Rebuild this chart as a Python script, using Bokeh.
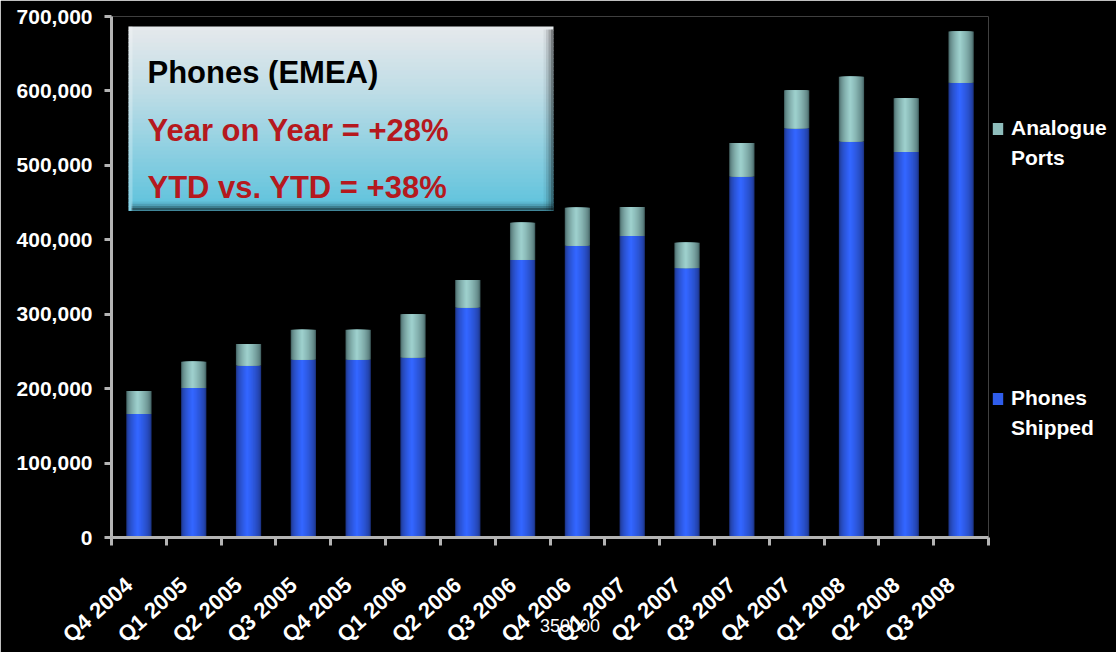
import numpy as np
from bokeh.plotting import figure
from bokeh.models import (Range1d, FixedTicker, NumeralTickFormatter, Label,
                          BoxAnnotation, ColumnDataSource, Legend, LegendItem)
from bokeh.embed import file_html
from bokeh.resources import INLINE

# ---------------- data ----------------
quarters = ["Q4 2004", "Q1 2005", "Q2 2005", "Q3 2005", "Q4 2005", "Q1 2006",
            "Q2 2006", "Q3 2006", "Q4 2006", "Q1 2007", "Q2 2007", "Q3 2007",
            "Q4 2007", "Q1 2008", "Q2 2008", "Q3 2008"]
phones_shipped = [166000, 201000, 231000, 239000, 239000, 242000, 309000, 373000,
                  392000, 405000, 362000, 485000, 550000, 532000, 518000, 611000]
analogue_ports = [31000, 35000, 29000, 40000, 40000, 58000, 37000, 50000,
                  51000, 39000, 34000, 45000, 51000, 87000, 72000, 69000]
y_ticks = [0, 100000, 200000, 300000, 400000, 500000, 600000, 700000]
series_names = [["Analogue", "Ports"], ["Phones", "Shipped"]]
box_lines = ["Phones (EMEA)", "Year on Year = +28%", "YTD vs. YTD = +38%"]
stray_text = "350000"

FONT = "Liberation Sans"
AXIS_GREY = "#b4b4b4"
n = len(quarters)

# ---------------- geometry helpers (reference pixel -> data) ----------------
FW, FH = 877, 521
IMG_L, IMG_T = 111, 16
IMG_B = IMG_T + FH
def px2x(px):
    return (px - IMG_L) * n / FW
def py2y(py):
    return (IMG_B - py) * 700000 / FH

p = figure(frame_width=FW, frame_height=FH,
           x_range=Range1d(0, n), y_range=Range1d(0, 700000),
           output_backend="svg", toolbar_location=None,
           background_fill_color="black", border_fill_color="black",
           min_border_left=IMG_L, min_border_right=0,
           min_border_top=IMG_T, min_border_bottom=652 - IMG_B)
p.outline_line_color = None
p.grid.visible = False

# ---------------- bars with horizontal gradient ----------------
xs = np.arange(n) + 0.5
BAR_W = 0.46
PEAK = 0.45

def hex2rgb(h):
    h = h.lstrip("#")
    return [int(h[i:i + 2], 16) for i in (0, 2, 4)]

def lerp(c1, c2, t):
    a, b = hex2rgb(c1), hex2rgb(c2)
    return "#%02x%02x%02x" % tuple(int(round(a[i] + (b[i] - a[i]) * t)) for i in range(3))

phones = np.array(phones_shipped, dtype=float)
totals = phones + np.array(analogue_ports, dtype=float)

def gradient_bars(bottom, top, edge, center, K=12):
    rends = []
    for k in range(K):
        f = 1 - k / K
        t = (k / (K - 1)) ** 0.6
        off = (PEAK - 0.5) * BAR_W * (1 - f)
        src = ColumnDataSource(dict(x=xs + off, bottom=bottom, top=top))
        r = p.vbar(x="x", width=BAR_W * f, bottom="bottom", top="top", source=src,
                   fill_color=lerp(edge, center, t), line_color=None)
        rends.append(r)
    return rends

blue_r = gradient_bars(np.zeros(n), phones, "#1d358a", "#3366ff")
teal_r = gradient_bars(phones, totals, "#486868", "#9dcfcc")

# ---------------- axes ----------------
LABEL_SHIFT = -0.18
xa = p.xaxis[0]
xa.ticker = FixedTicker(ticks=list(xs + LABEL_SHIFT), minor_ticks=list(range(n + 1)))
xa.major_label_overrides = {float(x + LABEL_SHIFT): q for x, q in zip(xs, quarters)}
xa.major_tick_line_color = None
xa.major_tick_in = 0
xa.major_tick_out = 0
xa.minor_tick_in = 0
xa.minor_tick_out = 8
xa.minor_tick_line_color = AXIS_GREY
xa.minor_tick_line_width = 3
xa.axis_line_color = AXIS_GREY
xa.axis_line_width = 3
xa.major_label_orientation = np.radians(42)
xa.major_label_standoff = 36
xa.major_label_text_color = "white"
xa.major_label_text_font = FONT
xa.major_label_text_font_style = "bold"
xa.major_label_text_font_size = "22px"
# stray overlapping text of the reference, placed as the axis label
xa.axis_label = "\u00a0" * 8 + stray_text
xa.axis_label_text_color = "white"
xa.axis_label_text_font = FONT
xa.axis_label_text_font_style = "normal"
xa.axis_label_text_font_size = "18px"
xa.axis_label_standoff = -44

ya = p.yaxis[0]
ya.ticker = FixedTicker(ticks=y_ticks)
ya.formatter = NumeralTickFormatter(format="0,0")
ya.major_tick_in = 0
ya.major_tick_out = 7
ya.major_tick_line_color = AXIS_GREY
ya.major_tick_line_width = 3
ya.minor_tick_line_color = None
ya.axis_line_color = AXIS_GREY
ya.axis_line_width = 3
ya.major_label_standoff = 12
ya.major_label_text_color = "white"
ya.major_label_text_font = FONT
ya.major_label_text_font_style = "bold"
ya.major_label_text_font_size = "21px"

# ---------------- info box (vertical gradient) ----------------
BX0, BX1, BY0, BY1 = 128, 553, 26, 210
stops = [(0.0, "#e6e9ec"), (0.35, "#bfdde6"), (1.0, "#5cc2dc")]
def grad(t):
    for (t0, c0), (t1, c1) in zip(stops[:-1], stops[1:]):
        if t <= t1:
            return lerp(c0, c1, (t - t0) / (t1 - t0))
    return stops[-1][1]

NB = 46
for i in range(NB):
    y0 = BY0 + (BY1 - BY0) * i / NB
    y1 = BY0 + (BY1 - BY0) * (i + 1) / NB
    p.add_layout(BoxAnnotation(left=px2x(BX0), right=px2x(BX1),
                               top=py2y(y0), bottom=py2y(y1 + 0.5),
                               fill_color=grad((i + 0.5) / NB), fill_alpha=1,
                               line_color=None, line_alpha=0))
for j, a in enumerate([0.05, 0.1, 0.16, 0.24]):
    p.add_layout(BoxAnnotation(left=px2x(BX1 - 10 + j * 2.5), right=px2x(BX1),
                               top=py2y(BY0 + 3), bottom=py2y(BY1),
                               fill_color="black", fill_alpha=a,
                               line_color=None, line_alpha=0))
for j, a in enumerate([0.06, 0.12, 0.2, 0.3]):
    p.add_layout(BoxAnnotation(left=px2x(BX0 + 3), right=px2x(BX1),
                               top=py2y(BY1 - 9 + j * 2.2), bottom=py2y(BY1),
                               fill_color="black", fill_alpha=a,
                               line_color=None, line_alpha=0))
p.add_layout(BoxAnnotation(left=px2x(BX0), right=px2x(BX0 + 4),
                           top=py2y(BY0), bottom=py2y(BY1),
                           fill_color="white", fill_alpha=0.25,
                           line_color=None, line_alpha=0))

box_colors = ["black", "#b5191e", "#b5191e"]
box_baselines = [72, 130, 187]
for txt, col, bl in zip(box_lines, box_colors, box_baselines):
    p.add_layout(Label(x=px2x(147), y=py2y(bl), text=txt, text_color=col,
                       text_font=FONT, text_font_style="bold",
                       text_font_size="31px", text_baseline="alphabetic"))

# ---------------- legend (right panel) ----------------
# one row per text line; invisible rows keep the reference's vertical gap
blank_r = p.vbar(x=[], top=[], width=0.1, fill_alpha=0, line_alpha=0)
GAP_ROWS = 7
items = [LegendItem(label=series_names[0][0], renderers=[teal_r[8]]),
         LegendItem(label=series_names[0][1], renderers=[blank_r])]
items += [LegendItem(label="\u00a0", renderers=[blank_r]) for _ in range(GAP_ROWS)]
items += [LegendItem(label=series_names[1][0], renderers=[blue_r[8]]),
          LegendItem(label=series_names[1][1], renderers=[blank_r])]
legend = Legend(items=items, location="top_left", orientation="vertical",
                margin=0, padding=3, spacing=6,
                glyph_width=13, glyph_height=15, label_standoff=7,
                label_text_font=FONT, label_text_font_style="bold",
                label_text_font_size="21px", label_text_color="white",
                background_fill_alpha=0, border_line_alpha=0,
                title=" ", title_text_font_size="8px", title_standoff=88)
p.add_layout(legend, "right")

open("out.html", "w").write(file_html(p, INLINE))
